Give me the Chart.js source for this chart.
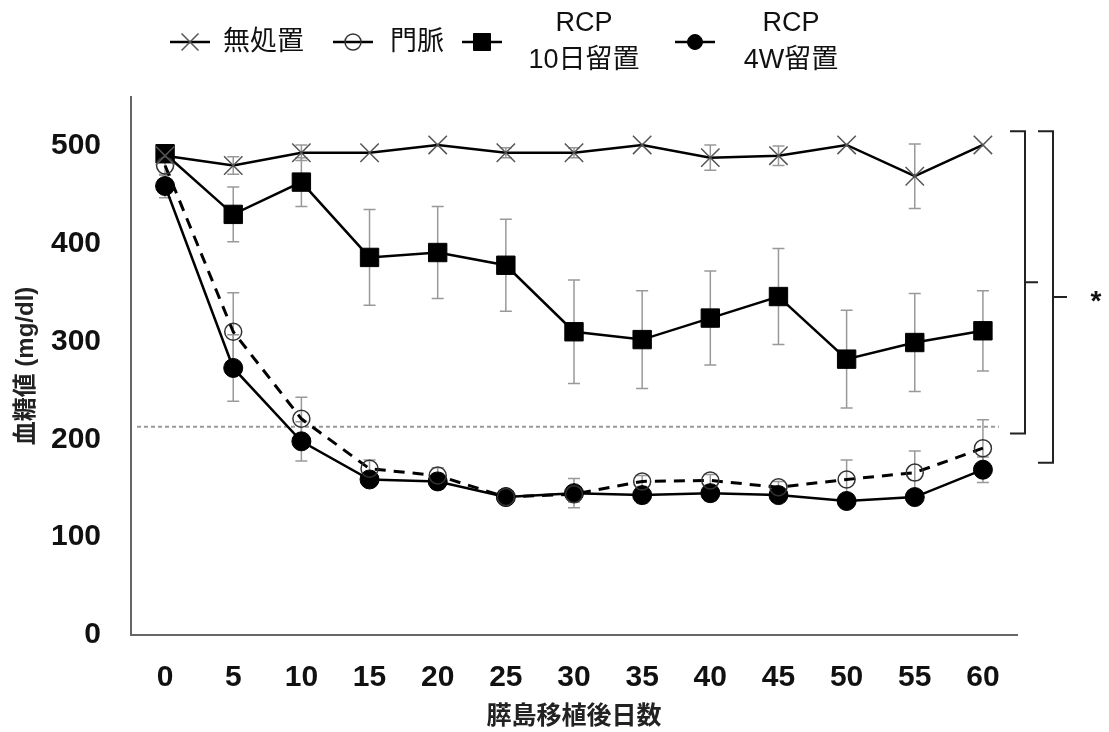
<!DOCTYPE html>
<html>
<head>
<meta charset="utf-8">
<script src="https://cdn.jsdelivr.net/npm/chart.js@4"></script>
<style>
html, body { margin: 0; padding: 0; background: #fff; }
</style>
</head>
<body>
<canvas id="myChart" width="1109" height="732"></canvas>
<script>
var ctx = document.getElementById('myChart').getContext('2d');

// days after islet transplantation
var days = ['0', '5', '10', '15', '20', '25', '30', '35', '40', '45', '50', '55', '60'];

// blood glucose (mg/dl), mean and error
var untreated     = [490, 480, 493, 493, 501, 493, 493, 501, 488, 490, 501, 469, 501];
var untreated_err = [6, 9, 8, 0, 0, 5, 5, 0, 13, 10, 0, 33, 0];
var portal        = [480, 310, 221, 170, 163, 141, 144, 157, 158, 151, 159, 166, 191];
var portal_err    = [10, 40, 22, 9, 8, 5, 8, 6, 6, 6, 20, 22, 29];
var rcp10         = [492, 430, 463, 386, 391, 378, 310, 302, 324, 346, 282, 299, 311];
var rcp10_err     = [6, 28, 25, 49, 47, 47, 53, 50, 48, 49, 50, 50, 41];
var rcp4w         = [459, 273, 198, 159, 157, 141, 145, 143, 145, 143, 137, 141, 169];
var rcp4w_err     = [12, 34, 20, 6, 8, 6, 15, 8, 8, 6, 6, 6, 13];

var y_ticks = [0, 100, 200, 300, 400, 500];
var threshold = 213;
var brackets = [[515, 206], [515, 176]];

var FONT = "'Liberation Sans', 'Noto Sans CJK JP', Arial, sans-serif";

function drawMarker(c, style, r, x, y) {
  c.beginPath();
  if (style == 'circle') {
    c.arc(x, y, r, 0, Math.PI * 2);
    c.fill(); c.stroke();
  } else if (style == 'rect') {
    var s = r * Math.SQRT1_2;
    c.rect(x - s, y - s, 2 * s, 2 * s);
    c.fill(); c.stroke();
  } else if (style == 'crossRot') {
    var d = r * Math.SQRT1_2;
    c.moveTo(x - d, y - d); c.lineTo(x + d, y + d);
    c.moveTo(x - d, y + d); c.lineTo(x + d, y - d);
    c.stroke();
  }
}

// threshold line and gray error bars, behind the points
var errorBars = {
  id: 'errorBars',
  beforeDatasetsDraw: function(chart) {
    var c = chart.ctx, ys = chart.scales.y, area = chart.chartArea;
    c.save();
    var ty = ys.getPixelForValue(threshold);
    var lastX = chart.getDatasetMeta(0).data[days.length - 1].x;
    c.strokeStyle = '#9a9a9a';
    c.lineWidth = 2;
    c.setLineDash([4, 3]);
    c.beginPath();
    c.moveTo(area.left + 6, ty);
    c.lineTo(lastX + 16, ty);
    c.stroke();
    c.setLineDash([]);

    c.strokeStyle = '#999';
    c.lineWidth = 1.5;
    chart.data.datasets.forEach(function(ds, i) {
      var meta = chart.getDatasetMeta(i);
      meta.data.forEach(function(pt, j) {
        var e = ds.errors[j];
        if (!e) return;
        var top = ys.getPixelForValue(ds.data[j] + e);
        var bot = ys.getPixelForValue(ds.data[j] - e);
        c.beginPath();
        c.moveTo(pt.x, top); c.lineTo(pt.x, bot);
        c.moveTo(pt.x - 6, top); c.lineTo(pt.x + 6, top);
        c.moveTo(pt.x - 6, bot); c.lineTo(pt.x + 6, bot);
        c.stroke();
      });
    });
    c.restore();
  }
};

// brackets with asterisk + the legend on top
var extras = {
  id: 'extras',
  afterDraw: function(chart) {
    var c = chart.ctx, ys = chart.scales.y, area = chart.chartArea;
    c.save();
    c.strokeStyle = '#222';
    c.lineWidth = 2;
    var bx = [[area.right - 7, area.right + 8, area.right + 21], [area.right + 21, area.right + 36, area.right + 50]];
    brackets.forEach(function(b, k) {
      var t = ys.getPixelForValue(b[0]), bo = ys.getPixelForValue(b[1]);
      var m = (t + bo) / 2;
      c.beginPath();
      c.moveTo(bx[k][0], t); c.lineTo(bx[k][1], t); c.lineTo(bx[k][1], bo); c.lineTo(bx[k][0], bo);
      c.moveTo(bx[k][1], m); c.lineTo(bx[k][2], m);
      c.stroke();
    });
    var mid2 = (ys.getPixelForValue(brackets[1][0]) + ys.getPixelForValue(brackets[1][1])) / 2;
    c.fillStyle = '#111';
    c.font = 'bold 28px ' + FONT;
    c.textAlign = 'center';
    c.textBaseline = 'middle';
    c.fillText('*', area.right + 79, mid2 + 5);

    // legend
    var pos = [190, 353, 482, 695];
    var radius = [12, 8, 12, 7.5];
    var textX = [223, 390, 584, 791];
    var ly = 42;
    c.font = '27px ' + FONT;
    chart.data.datasets.forEach(function(ds, i) {
      var x = pos[i];
      c.strokeStyle = '#000';
      c.lineWidth = 2.5;
      c.setLineDash([]);
      c.beginPath();
      c.moveTo(x - 20, ly); c.lineTo(x + 20, ly);
      c.stroke();
      c.fillStyle = ds.pointBackgroundColor;
      c.strokeStyle = ds.pointBorderColor;
      c.lineWidth = ds.pointBorderWidth;
      drawMarker(c, ds.pointStyle, radius[i], x, ly);
      c.fillStyle = '#111';
      var parts = ds.label.split(' ');
      if (parts.length == 1) {
        c.textAlign = 'left';
        c.fillText(parts[0], textX[i], ly + 1);
      } else {
        c.textAlign = 'center';
        c.fillText(parts[0], textX[i], 24);
        c.fillText(parts[1], textX[i], 61);
      }
    });
    c.restore();
  }
};

var chart = new Chart(ctx, {
  type: 'line',
  data: {
    labels: days,
    datasets: [{
      label: '無処置',
      data: untreated,
      errors: untreated_err,
      borderColor: '#000',
      borderWidth: 2.5,
      pointStyle: 'crossRot',
      pointRadius: 13,
      pointBackgroundColor: '#555',
      pointBorderColor: '#555',
      pointBorderWidth: 1.5
    }, {
      label: '門脈',
      data: portal,
      errors: portal_err,
      borderColor: '#000',
      borderWidth: 3,
      borderDash: [11, 8],
      pointStyle: 'circle',
      pointRadius: 8.5,
      pointBackgroundColor: 'rgba(255,255,255,0)',
      pointBorderColor: '#333',
      pointBorderWidth: 1.5
    }, {
      label: 'RCP 10日留置',
      data: rcp10,
      errors: rcp10_err,
      borderColor: '#000',
      borderWidth: 2.5,
      pointStyle: 'rect',
      pointRadius: 13,
      pointBackgroundColor: '#000',
      pointBorderColor: '#000',
      pointBorderWidth: 1
    }, {
      label: 'RCP 4W留置',
      data: rcp4w,
      errors: rcp4w_err,
      borderColor: '#000',
      borderWidth: 2.5,
      pointStyle: 'circle',
      pointRadius: 9.5,
      pointBackgroundColor: '#000',
      pointBorderColor: '#000',
      pointBorderWidth: 1
    }]
  },
  options: {
    responsive: false,
    animation: false,
    elements: { line: { tension: 0 } },
    layout: { padding: { top: 97, right: 92, left: 0, bottom: 0 } },
    plugins: {
      legend: { display: false },
      tooltip: { enabled: false }
    },
    scales: {
      x: {
        offset: true,
        grid: { display: false, drawTicks: false },
        border: { display: true, color: '#666', width: 2 },
        ticks: {
          color: '#111',
          font: { family: FONT, size: 30, weight: 'bold' },
          padding: 25,
          maxRotation: 0,
          autoSkip: false
        },
        title: {
          display: true,
          text: '膵島移植後日数',
          color: '#222',
          font: { family: FONT, size: 25, weight: 'bold' },
          padding: { top: 0, bottom: 0 }
        },
        afterFit: function(scale) { scale.height = 97; }
      },
      y: {
        min: 0,
        max: 550,
        grid: { display: false, drawTicks: false },
        border: { display: true, color: '#666', width: 2 },
        ticks: {
          stepSize: 100,
          color: '#111',
          font: { family: FONT, size: 30, weight: 'bold' },
          padding: 30
        },
        afterBuildTicks: function(scale) {
          scale.ticks = y_ticks.map(function(v) { return { value: v }; });
        },
        title: {
          display: true,
          text: '血糖値 (mg/dl)',
          color: '#222',
          font: { family: FONT, size: 24, weight: 'bold' },
          padding: { top: 12, bottom: 12 }
        },
        afterFit: function(scale) { scale.width = 131; }
      }
    }
  },
  plugins: [errorBars, extras]
});
</script>
</body>
</html>
